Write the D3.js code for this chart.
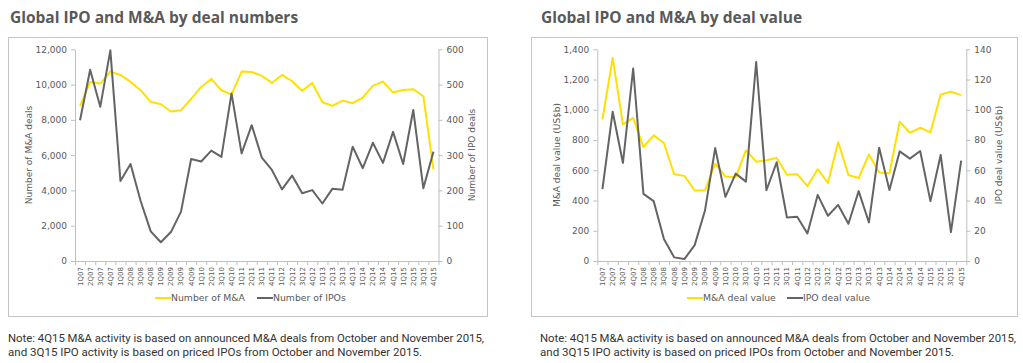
<!DOCTYPE html>
<html>
<head>
<meta charset="utf-8">
<script src="https://cdnjs.cloudflare.com/ajax/libs/d3/7.8.5/d3.min.js"></script>
<style>
  body { margin: 0; background: #fff; }
  svg { display: block; }
</style>
</head>
<body>
<svg></svg>
<script>
// quarters on the x axis
let quarters = ['1Q07','2Q07','3Q07','4Q07','1Q08','2Q08','3Q08','4Q08','1Q09','2Q09','3Q09','4Q09',
                '1Q10','2Q10','3Q10','4Q10','1Q11','2Q11','3Q11','4Q11','1Q12','2Q12','3Q12','4Q12',
                '1Q13','2Q13','3Q13','4Q13','1Q14','2Q14','3Q14','4Q14','1Q15','2Q15','3Q15','4Q15']

// left chart: deal numbers
let maNumbers = [8774,10151,10057,10736,10547,10151,9679,9019,8887,8472,8547,9189,
                 9868,10321,9679,9434,10736,10717,10491,10094,10547,10189,9642,10094,
                 9000,8792,9094,8943,9264,9925,10170,9547,9698,9736,9340,5189]
let ipoNumbers = [399,542,437,597,227,275,170,84,53,82,140,289,
                  282,313,295,475,305,385,293,258,203,242,192,201,
                  163,205,202,324,263,335,278,366,275,428,206,310]

// right chart: deal value (US$b)
let maValue = [936,1343,903,947,754,831,780,574,563,466,466,644,
               558,554,732,657,666,681,570,574,495,607,516,787,
               569,549,705,585,580,921,848,881,851,1101,1119,1097]
let ipoValue = [47.5,98.7,64.8,127.3,44.4,39.6,14.5,2.4,1.3,10.5,33.2,74.7,
                42.4,57.8,52.5,131.6,46.8,65.3,28.8,29.2,18.2,43.7,29.9,37.1,
                24.6,46.2,25.5,74.9,47.0,72.5,67.7,72.7,39.6,70.1,19.1,66.4]

let numLeftTicks = [0,2000,4000,6000,8000,10000,12000]
let numRightTicks = [0,100,200,300,400,500,600]
let valLeftTicks = [0,200,400,600,800,1000,1200,1400]
let valRightTicks = [0,20,40,60,80,100,120,140]

let noteLines = ['Note: 4Q15 M&A activity is based on announced M&A deals from October and November 2015,',
                 'and 3Q15 IPO activity is based on priced IPOs from October and November 2015.']

let width = 1023
let height = 363
let yellow = '#ffe000'
let grey = '#646464'
let axisColor = '#bfbfbf'
let textColor = '#595959'
let font = 'DejaVu Sans, Verdana, sans-serif'

let svg = d3.select('svg')
svg.attr('width', width).attr('height', height)

let drawPanel = (p) => {
    let g = svg.append('g')

    // frame
    g.append('rect')
        .attr('x', p.boxX + 0.5).attr('y', 37.5)
        .attr('width', p.boxW).attr('height', 279)
        .attr('fill', 'none')
        .attr('stroke', '#c4c4c4')

    // title
    g.append('text')
        .attr('x', p.titleX).attr('y', 23)
        .attr('font-family', 'Open Sans, sans-serif')
        .attr('font-weight', 'bold')
        .attr('font-size', 15.5)
        .attr('fill', textColor)
        .text(p.title)

    let xScale = d3.scaleBand().domain(quarters).range([p.x0, p.x1]).padding(0)
    let xLin = d3.scaleLinear().domain([0, quarters.length]).range([p.x0, p.x1])
    let yLeft = d3.scaleLinear().domain([0, d3.max(p.leftTicks)]).range([261, 49.3])
    let yRight = d3.scaleLinear().domain([0, d3.max(p.rightTicks)]).range([261, 49.3])

    let styleAxis = (sel) => {
        sel.selectAll('path').attr('stroke', axisColor)
        sel.selectAll('line').attr('stroke', axisColor)
        sel.selectAll('text').attr('fill', textColor).attr('font-family', font)
    }

    let leftAxis = d3.axisLeft(yLeft).tickValues(p.leftTicks).tickSizeInner(4).tickSizeOuter(0)
                     .tickPadding(4).tickFormat(d3.format(','))
    g.append('g')
        .attr('transform', 'translate(' + p.x0 + ',0)')
        .call(leftAxis)
        .call(styleAxis)
        .selectAll('text').attr('font-size', 9)

    let rightAxis = d3.axisRight(yRight).tickValues(p.rightTicks).tickSizeInner(4).tickSizeOuter(0)
                      .tickPadding(4).tickFormat(d3.format(','))
    g.append('g')
        .attr('transform', 'translate(' + p.x1 + ',0)')
        .call(rightAxis)
        .call(styleAxis)
        .selectAll('text').attr('font-size', 9)

    // category boundary ticks
    g.append('g')
        .attr('transform', 'translate(0,261)')
        .call(d3.axisBottom(xLin).tickValues(d3.range(quarters.length + 1)).tickFormat('').tickSizeInner(4).tickSizeOuter(0))
        .call(styleAxis)

    // quarter labels, rotated
    g.append('g')
        .attr('transform', 'translate(0,261)')
        .call(d3.axisBottom(xScale).tickSize(0).tickPadding(0))
        .call((sel) => sel.select('path').remove())
        .call(styleAxis)
        .selectAll('text')
        .attr('font-size', 7)
        .attr('text-anchor', 'end')
        .attr('dy', '0.35em')
        .attr('transform', 'translate(0,6) rotate(-90)')
        .attr('x', 0).attr('y', 0)

    // axis titles
    g.append('text')
        .attr('transform', 'translate(' + p.leftTitleX + ',155) rotate(-90)')
        .attr('text-anchor', 'middle')
        .attr('dominant-baseline', 'central')
        .attr('font-family', font).attr('font-size', 9).attr('fill', textColor)
        .text(p.leftTitle)
    g.append('text')
        .attr('transform', 'translate(' + p.rightTitleX + ',155) rotate(-90)')
        .attr('text-anchor', 'middle')
        .attr('dominant-baseline', 'central')
        .attr('font-family', font).attr('font-size', 9).attr('fill', textColor)
        .text(p.rightTitle)

    let cx = (d, i) => xScale(quarters[i]) + xScale.bandwidth() / 2

    g.append('path')
        .datum(p.leftSeries)
        .attr('fill', 'none')
        .attr('stroke', yellow)
        .attr('stroke-width', 2)
        .attr('stroke-linejoin', 'round')
        .attr('d', d3.line().x(cx).y((d) => yLeft(d)))

    g.append('path')
        .datum(p.rightSeries)
        .attr('fill', 'none')
        .attr('stroke', grey)
        .attr('stroke-width', 2)
        .attr('stroke-linejoin', 'round')
        .attr('d', d3.line().x(cx).y((d) => yRight(d)))

    // legend
    let legend = [
        {name: p.leftName, color: yellow, x: p.legX[0]},
        {name: p.rightName, color: grey, x: p.legX[1]}
    ]
    let items = g.selectAll('.legend')
        .data(legend)
        .enter()
        .append('g')
        .attr('class', 'legend')
        .attr('transform', (d) => 'translate(' + d.x + ',298)')
    items.append('line')
        .attr('x1', 0).attr('x2', 16)
        .attr('stroke', (d) => d.color)
        .attr('stroke-width', 2)
    items.append('text')
        .attr('x', 16).attr('dy', '0.35em')
        .attr('font-family', font).attr('font-size', 9.3).attr('fill', textColor)
        .text((d) => d.name)

    // notes, squeezed to the condensed width of the original
    noteLines.forEach((line, i) => {
        g.append('text')
            .attr('x', p.noteX).attr('y', 342 + i * 14)
            .attr('font-family', 'Roboto, sans-serif')
            .attr('font-size', 11.5)
            .attr('fill', '#333')
            .attr('textLength', i === 0 ? 476 : 414)
            .attr('lengthAdjust', 'spacingAndGlyphs')
            .text(line)
    })
}

drawPanel({
    boxX: 8, boxW: 479, titleX: 10, noteX: 8,
    title: 'Global IPO and M&A by deal numbers',
    x0: 75, x1: 438.5,
    leftTicks: numLeftTicks, rightTicks: numRightTicks,
    leftSeries: maNumbers, rightSeries: ipoNumbers,
    leftTitle: 'Number of M&A deals', rightTitle: 'Number of IPO deals',
    leftTitleX: 29, rightTitleX: 472,
    leftName: 'Number of M&A', rightName: 'Number of IPOs',
    legX: [155, 257]
})

drawPanel({
    boxX: 531, boxW: 486, titleX: 541, noteX: 540,
    title: 'Global IPO and M&A by deal value',
    x0: 597.3, x1: 966.3,
    leftTicks: valLeftTicks, rightTicks: valRightTicks,
    leftSeries: maValue, rightSeries: ipoValue,
    leftTitle: 'M&A deal value (US$b)', rightTitle: 'IPO deal value (US$b)',
    leftTitleX: 557, rightTitleX: 999,
    leftName: 'M&A deal value', rightName: 'IPO deal value',
    legX: [687, 787]
})
</script>
</body>
</html>
